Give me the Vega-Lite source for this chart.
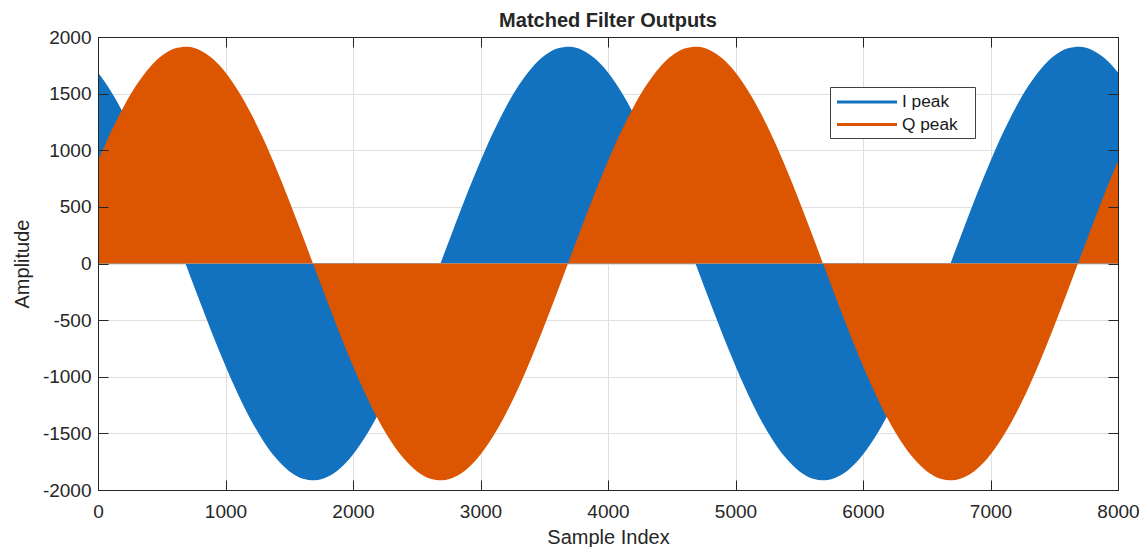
{
  "$schema": "https://vega.github.io/schema/vega-lite/v6.json",
  "width": 1020,
  "height": 453,
  "autosize": {"type": "none"},
  "padding": {"left": 98, "top": 37, "right": 28, "bottom": 57},
  "background": "white",
  "title": {"text": "Matched Filter Outputs", "font": "Liberation Sans", "fontSize": 20, "fontWeight": "bold", "color": "#262626", "anchor": "middle", "offset": -3},
  "config": {
    "font": "Liberation Sans",
    "view": {"stroke": null},
    "axis": {"labelFont": "Liberation Sans", "titleFont": "Liberation Sans"},
    "legend": {"labelFont": "Liberation Sans"}
  },
  "data": {"values": [
    {"x":0,"I":1687,"Q":906},{"x":100,"I":1524,"Q":1159},{"x":200,"I":1324,"Q":1383},{"x":300,"I":1092,"Q":1573},{"x":400,"I":832,"Q":1725},
    {"x":500,"I":552,"Q":1834},{"x":600,"I":258,"Q":1898},{"x":700,"I":-42,"Q":1915},{"x":800,"I":-341,"Q":1884},{"x":900,"I":-631,"Q":1808},
    {"x":1000,"I":-906,"Q":1687},{"x":1100,"I":-1159,"Q":1524},{"x":1200,"I":-1383,"Q":1324},{"x":1300,"I":-1573,"Q":1092},{"x":1400,"I":-1725,"Q":832},
    {"x":1500,"I":-1834,"Q":552},{"x":1600,"I":-1898,"Q":258},{"x":1700,"I":-1915,"Q":-42},{"x":1800,"I":-1884,"Q":-341},{"x":1900,"I":-1808,"Q":-631},
    {"x":2000,"I":-1687,"Q":-906},{"x":2100,"I":-1524,"Q":-1159},{"x":2200,"I":-1324,"Q":-1383},{"x":2300,"I":-1092,"Q":-1573},{"x":2400,"I":-832,"Q":-1725},
    {"x":2500,"I":-552,"Q":-1834},{"x":2600,"I":-258,"Q":-1898},{"x":2700,"I":42,"Q":-1915},{"x":2800,"I":341,"Q":-1884},{"x":2900,"I":631,"Q":-1808},
    {"x":3000,"I":906,"Q":-1687},{"x":3100,"I":1159,"Q":-1524},{"x":3200,"I":1383,"Q":-1324},{"x":3300,"I":1573,"Q":-1092},{"x":3400,"I":1725,"Q":-832},
    {"x":3500,"I":1834,"Q":-552},{"x":3600,"I":1898,"Q":-258},{"x":3700,"I":1915,"Q":42},{"x":3800,"I":1884,"Q":341},{"x":3900,"I":1808,"Q":631},
    {"x":4000,"I":1687,"Q":906},{"x":4100,"I":1524,"Q":1159},{"x":4200,"I":1324,"Q":1383},{"x":4300,"I":1092,"Q":1573},{"x":4400,"I":832,"Q":1725},
    {"x":4500,"I":552,"Q":1834},{"x":4600,"I":258,"Q":1898},{"x":4700,"I":-42,"Q":1915},{"x":4800,"I":-341,"Q":1884},{"x":4900,"I":-631,"Q":1808},
    {"x":5000,"I":-906,"Q":1687},{"x":5100,"I":-1159,"Q":1524},{"x":5200,"I":-1383,"Q":1324},{"x":5300,"I":-1573,"Q":1092},{"x":5400,"I":-1725,"Q":832},
    {"x":5500,"I":-1834,"Q":552},{"x":5600,"I":-1898,"Q":258},{"x":5700,"I":-1915,"Q":-42},{"x":5800,"I":-1884,"Q":-341},{"x":5900,"I":-1808,"Q":-631},
    {"x":6000,"I":-1687,"Q":-906},{"x":6100,"I":-1524,"Q":-1159},{"x":6200,"I":-1324,"Q":-1383},{"x":6300,"I":-1092,"Q":-1573},{"x":6400,"I":-832,"Q":-1725},
    {"x":6500,"I":-552,"Q":-1834},{"x":6600,"I":-258,"Q":-1898},{"x":6700,"I":42,"Q":-1915},{"x":6800,"I":341,"Q":-1884},{"x":6900,"I":631,"Q":-1808},
    {"x":7000,"I":906,"Q":-1687},{"x":7100,"I":1159,"Q":-1524},{"x":7200,"I":1383,"Q":-1324},{"x":7300,"I":1573,"Q":-1092},{"x":7400,"I":1725,"Q":-832},
    {"x":7500,"I":1834,"Q":-552},{"x":7600,"I":1898,"Q":-258},{"x":7700,"I":1915,"Q":42},{"x":7800,"I":1884,"Q":341},{"x":7900,"I":1808,"Q":631},
    {"x":8000,"I":1687,"Q":906}
  ]},
  "layer": [
    {
      "mark": {"type": "area", "interpolate": "monotone", "opacity": 1},
      "encoding": {
        "x": {"field": "x", "type": "quantitative", "scale": {"domain": [0, 8000], "nice": false, "zero": false},
              "axis": {"grid": true, "gridColor": "#dfdfdf", "gridWidth": 1, "values": [0,1000,2000,3000,4000,5000,6000,7000,8000], "domain": false, "ticks": false, "labels": false, "title": null, "zindex": 0}},
        "y": {"field": "I", "type": "quantitative", "stack": null, "scale": {"domain": [-2000, 2000], "nice": false},
              "axis": {"grid": true, "gridColor": "#dfdfdf", "gridWidth": 1, "values": [-2000,-1500,-1000,-500,0,500,1000,1500,2000], "domain": false, "ticks": false, "labels": false, "title": null, "zindex": 0}},
        "y2": {"datum": 0},
        "color": {"datum": "I peak", "type": "nominal",
                  "scale": {"domain": ["I peak", "Q peak"], "range": ["#1372BF", "#DC5500"]},
                  "legend": {"title": null, "orient": "none", "legendX": 732, "legendY": 50, "symbolType": "M-0.8,-0.15H5.2V0.15H-0.8Z", "symbolSize": 400, "symbolStrokeWidth": 0, "symbolOpacity": 1, "labelFontSize": 17.3, "labelColor": "#1a1a1a", "labelOffset": 47, "labelExpr": "datum.label + '\u2800'", "padding": 5, "rowPadding": 3.5, "fillColor": "white", "strokeColor": "#404040"}}
      }
    },
    {
      "mark": {"type": "area", "interpolate": "monotone", "opacity": 1},
      "encoding": {
        "x": {"field": "x", "type": "quantitative",
              "axis": {"orient": "bottom", "values": [0,1000,2000,3000,4000,5000,6000,7000,8000], "labelExpr": "datum.value + ''", "grid": false, "domain": true, "domainColor": "#262626", "domainWidth": 1, "ticks": true, "tickSize": -10, "tickColor": "#262626", "tickWidth": 1, "labelFontSize": 19, "labelColor": "#262626", "labelPadding": 22, "labelFlush": false, "labelOverlap": false, "title": "Sample Index", "titleFontSize": 20, "titleFontWeight": "normal", "titleColor": "#262626", "titlePadding": 6, "zindex": 1}},
        "y": {"field": "Q", "type": "quantitative", "stack": null,
              "axis": {"orient": "left", "values": [-2000,-1500,-1000,-500,0,500,1000,1500,2000], "labelExpr": "datum.value + ''", "grid": false, "domain": true, "domainColor": "#262626", "domainWidth": 1, "ticks": true, "tickSize": -10, "tickColor": "#262626", "tickWidth": 1, "labelFontSize": 19, "labelColor": "#262626", "labelPadding": 17, "labelOverlap": false, "title": "Amplitude", "titleFontSize": 20, "titleFontWeight": "normal", "titleColor": "#262626", "titlePadding": 10, "zindex": 1}},
        "y2": {"datum": 0},
        "color": {"datum": "Q peak", "type": "nominal",
                  "legend": {"title": null, "orient": "none", "legendX": 732, "legendY": 50, "symbolType": "M-0.8,-0.15H5.2V0.15H-0.8Z", "symbolSize": 400, "symbolStrokeWidth": 0, "symbolOpacity": 1, "labelFontSize": 17.3, "labelColor": "#1a1a1a", "labelOffset": 47, "labelExpr": "datum.label + '\u2800'", "padding": 5, "rowPadding": 3.5, "fillColor": "white", "strokeColor": "#404040"}}
      }
    },
    {
      "mark": {"type": "point", "opacity": 0, "size": 0},
      "encoding": {
        "x": {"field": "x", "type": "quantitative",
              "axis": {"orient": "top", "values": [0,1000,2000,3000,4000,5000,6000,7000,8000], "grid": false, "domain": true, "domainColor": "#262626", "domainWidth": 1, "ticks": true, "tickSize": -10, "tickColor": "#262626", "tickWidth": 1, "labels": false, "title": null, "zindex": 1}},
        "y": {"field": "I", "type": "quantitative",
              "axis": {"orient": "right", "values": [-2000,-1500,-1000,-500,0,500,1000,1500,2000], "grid": false, "domain": true, "domainColor": "#262626", "domainWidth": 1, "ticks": true, "tickSize": -10, "tickColor": "#262626", "tickWidth": 1, "labels": false, "title": null, "zindex": 1}}
      }
    }
  ],
  "resolve": {"axis": {"x": "independent", "y": "independent"}}
}
